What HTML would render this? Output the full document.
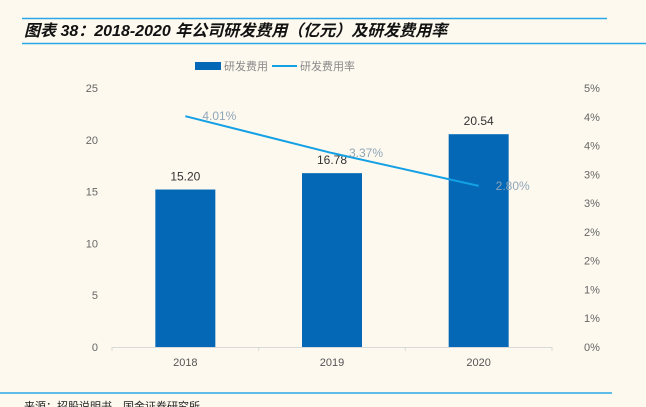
<!DOCTYPE html>
<html><head><meta charset="utf-8"><style>
body{margin:0;background:#fdf9ef;}
svg{display:block;font-family:"Liberation Sans","Noto Sans CJK SC",sans-serif;}
</style></head><body>
<svg width="646" height="407">
<rect width="646" height="407" fill="#fdf9ef"/>
<line x1="22" y1="18.5" x2="607" y2="18.5" stroke="#29a7e6" stroke-width="1.5"/>
<text x="24" y="36" font-size="16" font-weight="bold" font-style="italic" fill="#111">图表 38：2018-2020 年公司研发费用（亿元）及研发费用率</text>
<line x1="22" y1="43.5" x2="646" y2="43.5" stroke="#29a7e6" stroke-width="1.5"/>
<g>
<rect x="195" y="62" width="26" height="8" fill="#0468b6"/>
<text x="224" y="70" font-size="11" fill="#888">研发费用</text>
<line x1="272" y1="66" x2="297" y2="66" stroke="#14a0e4" stroke-width="2"/>
<text x="300" y="70" font-size="11" fill="#888">研发费用率</text>
</g>
<g id="plot"></g>
<line x1="0" y1="393" x2="612" y2="393" stroke="#29a7e6" stroke-width="1.5"/>
<text x="24" y="410" font-size="11" fill="#222">来源：招股说明书，国金证券研究所</text>
</svg>
<script>
const categories=["2018","2019","2020"];
const expense=[15.20,16.78,20.54];
const rate=[4.01,3.37,2.80];
const leftTicks=[0,5,10,15,20,25];
const rightTicks=[0,0.5,1,1.5,2,2.5,3,3.5,4,4.5];
const NS="http://www.w3.org/2000/svg";
const g=document.getElementById('plot');
const x0=112,x1=552,yb=347,yt=88;
const yL=v=>yb-v/25*(yb-yt);
const yR=v=>yb-v/4.5*(yb-yt);
const band=(x1-x0)/categories.length;
const xc=i=>x0+band*(i+0.5);
function mk(t,a,txt){const e=document.createElementNS(NS,t);for(const k in a)e.setAttribute(k,a[k]);if(txt!==undefined)e.textContent=txt;g.appendChild(e);return e;}
leftTicks.forEach(v=>{const e=mk('text',{x:98,y:yL(v)+4,'font-size':11,fill:'#666','text-anchor':'end'},String(v));

});
rightTicks.forEach(v=>{const e=mk('text',{x:584,y:yR(v)+4,'font-size':11,fill:'#666'},Math.round(v)+'%');

});
const ax=mk('line',{x1:x0,y1:yb+0.5,x2:x1,y2:yb+0.5,stroke:'#d9d9d9'});


for(let i=0;i<=categories.length;i++){const t=mk('line',{x1:x0+band*i,y1:yb,x2:x0+band*i,y2:yb+4,stroke:'#d9d9d9'});

}
categories.forEach((c,i)=>{
const b=mk('rect',{x:xc(i)-30,y:yL(expense[i]),width:60,height:yb-yL(expense[i]),fill:'#0468b6'});


const l=mk('text',{x:xc(i),y:yL(expense[i])-9,'font-size':12,fill:'#333','text-anchor':'middle'},expense[i].toFixed(2));


const xl=mk('text',{x:xc(i),y:366,'font-size':11,fill:'#555','text-anchor':'middle'},c);


});
const pl=mk('polyline',{points:rate.map((v,i)=>xc(i)+','+yR(v)).join(' '),fill:'none',stroke:'#14a0e4','stroke-width':2});


rate.forEach((v,i)=>{const t=mk('text',{x:xc(i)+17,y:yR(v)+4,'font-size':12,fill:'#8fa6b8'},v.toFixed(2)+'%');

});
</script>
</body></html>
